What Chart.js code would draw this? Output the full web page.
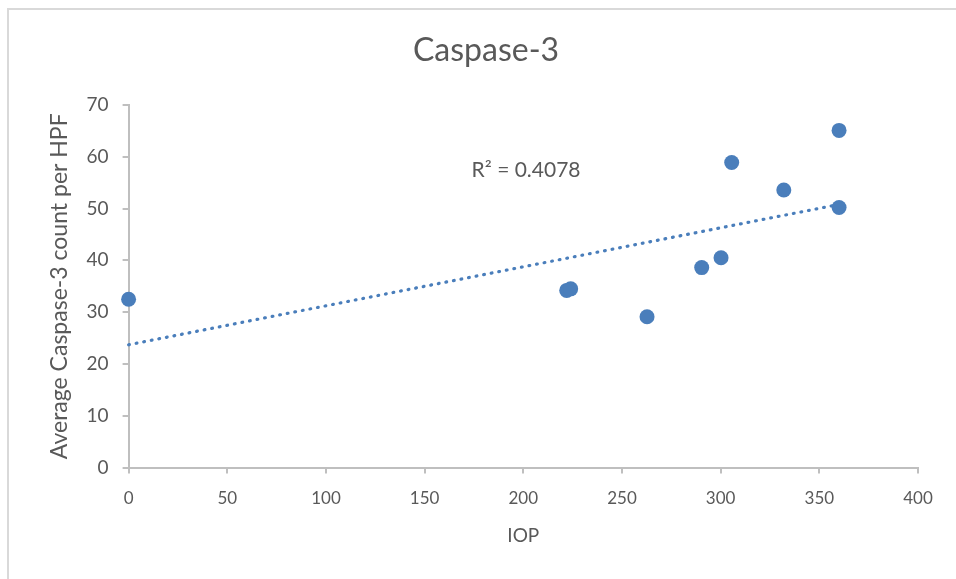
<!DOCTYPE html>
<html lang="en">

<head>
    <meta charset="UTF-8">
    <title>Caspase-3</title>
    <script src="https://cdn.jsdelivr.net/npm/chart.js"></script>
    <style>
        html, body { margin: 0; padding: 0; background: #fff; }
        .wrap { position: relative; width: 956px; height: 579px; }
    </style>
</head>

<body>
    <div class="wrap">
        <canvas id="myChart"></canvas>
    </div>

<script>
    // data
    var iop = [0, 222, 224, 262.7, 290.4, 300.2, 305.6, 332, 360, 360];
    var caspase = [32.5, 34.2, 34.5, 29.1, 38.6, 40.5, 58.9, 53.6, 65.1, 50.2];

    // trendline end points (as drawn in the picture)
    var trendX = [0, 360];
    var trendY = [23.7, 50.8];
    var rSquared = 'R\u00b2 = 0.4078';

    var xTicks = [0, 50, 100, 150, 200, 250, 300, 350, 400];
    var yTicks = [0, 10, 20, 30, 40, 50, 60, 70];

    var cinza = '#595959';
    var eixo = '#bfbfbf';
    var azul = '#4a7ebb';
    var fonte = 'Lato, "Open Sans", sans-serif';

    var pontos = [];
    for (let i = 0; i < iop.length; i++) {
        pontos.push({ x: iop[i], y: caspase[i] });
    }
    var linha = [];
    for (let i = 0; i < trendX.length; i++) {
        linha.push({ x: trendX[i], y: trendY[i] });
    }

    // moldura cinza e texto do R²
    const moldura = {
        id: 'moldura',
        beforeDraw(chart) {
            const ctx = chart.ctx;
            ctx.save();
            ctx.fillStyle = '#fff';
            ctx.fillRect(0, 0, chart.width, chart.height);
            ctx.strokeStyle = '#d9d9d9';
            ctx.lineWidth = 2;
            ctx.beginPath();
            ctx.moveTo(8, chart.height);
            ctx.lineTo(8, 9);
            ctx.lineTo(chart.width, 9);
            ctx.stroke();
            ctx.restore();
        },
        afterDatasetsDraw(chart) {
            const ctx = chart.ctx;
            const x = chart.scales.x.getPixelForValue(201.4);
            const y = chart.scales.y.getPixelForValue(57.4);
            ctx.save();
            ctx.fillStyle = cinza;
            ctx.font = '21px ' + fonte;
            ctx.textAlign = 'center';
            ctx.textBaseline = 'middle';
            ctx.fillText(rSquared, x, y);
            ctx.restore();
        }
    };

    const config = {
        type: 'scatter',
        data: {
            datasets: [{
                label: 'Caspase-3',
                data: pontos,
                backgroundColor: azul,
                borderColor: azul,
                pointRadius: 7.5,
                pointBorderWidth: 0,
                clip: false
            }, {
                label: 'Linear',
                data: linha,
                showLine: true,
                borderColor: azul,
                borderWidth: 3.2,
                borderDash: [0.8, 6.9],
                borderCapStyle: 'round',
                pointRadius: 0,
                clip: false
            }]
        },
        options: {
            responsive: false,
            animation: false,
            layout: { padding: { left: 16, right: 0, top: 0, bottom: 0 } },
            plugins: {
                legend: { display: false },
                tooltip: { enabled: false },
                title: {
                    display: true,
                    text: 'Caspase-3',
                    color: cinza,
                    font: { family: fonte, size: 32, weight: 'normal' },
                    padding: { top: 31.8, bottom: 34.8 }
                }
            },
            scales: {
                x: {
                    type: 'linear',
                    min: 0,
                    max: 400,
                    afterBuildTicks(scale) {
                        scale.ticks = xTicks.map(v => ({ value: v }));
                    },
                    afterFit(scale) { scale.height = 579 - 467.5; },
                    border: { color: eixo, width: 2 },
                    grid: { drawOnChartArea: false, color: eixo, tickLength: 6, lineWidth: 2 },
                    ticks: { color: cinza, font: { family: fonte, size: 17 }, padding: 15 },
                    title: {
                        display: true,
                        text: 'IOP',
                        color: cinza,
                        font: { family: fonte, size: 19 },
                        padding: { top: 0, bottom: 31.6 }
                    }
                },
                y: {
                    type: 'linear',
                    min: 0,
                    max: 70,
                    afterBuildTicks(scale) {
                        scale.ticks = yTicks.map(v => ({ value: v }));
                    },
                    afterFit(scale) { scale.width = 128.6 - 16; },
                    border: { color: eixo, width: 2 },
                    grid: { drawOnChartArea: false, color: eixo, tickLength: 6, lineWidth: 2 },
                    ticks: { color: cinza, font: { family: fonte, size: 19 }, padding: 14 },
                    title: {
                        display: true,
                        text: 'Average Caspase-3 count per HPF',
                        color: cinza,
                        font: { family: fonte, size: 23 },
                        padding: { top: 30, bottom: 0 }
                    }
                },
                // espaço vazio à direita do gráfico
                direita: {
                    type: 'linear',
                    position: 'right',
                    display: true,
                    afterFit(scale) { scale.width = 38; },
                    border: { display: false },
                    grid: { display: false },
                    ticks: { display: false }
                }
            }
        },
        plugins: [moldura]
    };

    const canvas = document.getElementById('myChart');
    canvas.width = 956;
    canvas.height = 579;
    const myChart = new Chart(canvas, config);
</script>
</body>

</html>
